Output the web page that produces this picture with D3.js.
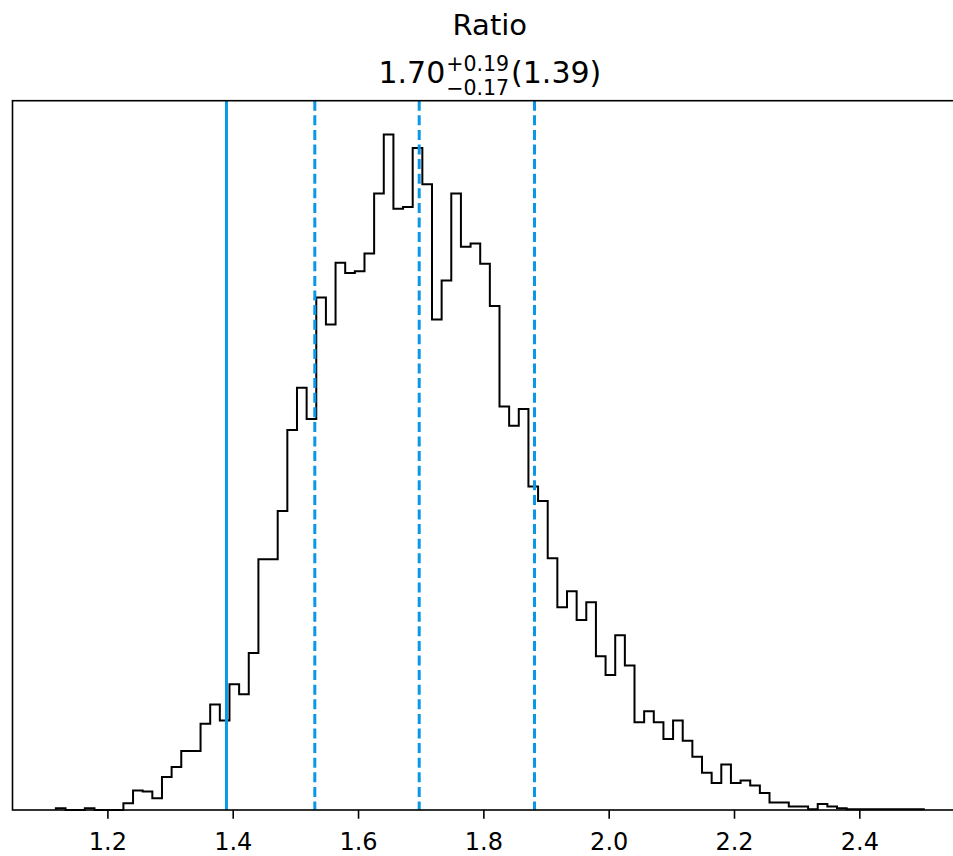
<!DOCTYPE html>
<html>
<head>
<meta charset="utf-8">
<script src="https://cdn.jsdelivr.net/npm/d3@7"></script>
<style>
  html, body { margin: 0; padding: 0; background: #fff; }
  svg { display: block; }
  text { font-family: "DejaVu Sans", sans-serif; fill: #000; }
</style>
</head>
<body>
<div id="chart"></div>
<script>
// ---------------- data ----------------
const titleText = "Ratio";
const medianLabel = "1.70";
const upperErrLabel = "+0.19";
const lowerErrLabel = "\u22120.17";
const truthLabel = "(1.39)";

const binStart = 1.1178;
const binWidth = 0.01539;
const counts = [
  2, 0, 0, 2, 0, 0, 0, 8, 23, 22,
  14, 39, 51, 70, 70, 102, 125, 106, 149, 137,
  186, 297, 297, 354, 450, 500, 463, 607, 575, 648,
  636, 638, 659, 730, 800, 712, 714, 784, 741, 581,
  627, 730, 667, 671, 647, 597, 478, 455, 475, 383,
  366, 298, 240, 259, 225, 246, 182, 160, 207, 171,
  104, 117, 104, 84, 106, 82, 63, 44, 32, 54,
  32, 35, 29, 20, 9, 9, 4, 4, 1, 7,
  4, 2, 1, 1, 1, 1, 1, 1, 1, 1
];
const tickValues = [1.2, 1.4, 1.6, 1.8, 2.0, 2.2, 2.4];
const tickLabels = ["1.2", "1.4", "1.6", "1.8", "2.0", "2.2", "2.4"];
const truthValue = 1.39;
const quantileValues = [1.531, 1.6976, 1.8816];

// ---------------- layout ----------------
const W = 953, H = 856;
const plotLeft = 12.5, plotRight = 967.2, plotTop = 100.7, plotBottom = 810;
const blue = "#0a97e8";

const svg = d3.select("#chart").append("svg")
  .attr("width", W).attr("height", H);

const edges = counts.map((_, i) => binStart + i * binWidth);
const dataMax = binStart + counts.length * binWidth;
const pad = (dataMax - binStart) * 0.05;

const x = d3.scaleLinear().domain([binStart - pad, dataMax + pad]).range([plotLeft, plotRight]);
const y = d3.scaleLinear().domain([0, d3.max(counts) * 1.05]).range([plotBottom, plotTop]);

// histogram step outline
const pts = [[binStart, 0]];
counts.forEach((c, i) => pts.push([edges[i], c]));
pts.push([dataMax, 0]);
const line = d3.line().x(d => x(d[0])).y(d => y(d[1])).curve(d3.curveStepAfter);

svg.append("path")
  .attr("d", line(pts))
  .attr("fill", "none")
  .attr("stroke", "#000")
  .attr("stroke-width", 2)
  .attr("stroke-linejoin", "miter");

// truth line
svg.append("line")
  .attr("x1", x(truthValue)).attr("x2", x(truthValue))
  .attr("y1", plotTop).attr("y2", plotBottom)
  .attr("stroke", blue).attr("stroke-width", 3);

// quantile lines
svg.selectAll("line.q").data(quantileValues).enter().append("line")
  .attr("class", "q")
  .attr("x1", d => x(d)).attr("x2", d => x(d))
  .attr("y1", plotTop).attr("y2", plotBottom)
  .attr("stroke", blue).attr("stroke-width", 3)
  .attr("stroke-dasharray", "10,4.6");

// spines (right side lies outside the picture)
svg.append("rect")
  .attr("x", plotLeft).attr("y", plotTop)
  .attr("width", plotRight - plotLeft).attr("height", plotBottom - plotTop)
  .attr("fill", "none").attr("stroke", "#000").attr("stroke-width", 1.6);

// x axis
const axis = d3.axisBottom(x)
  .tickValues(tickValues)
  .tickFormat((d, i) => tickLabels[i])
  .tickSize(8.75)
  .tickSizeOuter(0);
const gx = svg.append("g").attr("transform", `translate(0,${plotBottom})`).call(axis);
gx.select(".domain").remove();
gx.selectAll(".tick line").attr("stroke", "#000").attr("stroke-width", 1.6);
gx.selectAll(".tick text")
  .attr("y", 40).attr("dy", null)
  .style("font-size", "24px")
  .style("font-family", "'DejaVu Sans', sans-serif")
  .attr("fill", "#000");

// titles
const cx = (plotLeft + plotRight) / 2;
svg.append("text")
  .attr("x", cx).attr("y", 35)
  .attr("text-anchor", "middle")
  .style("font-size", "29px")
  .text(titleText);

const g2 = svg.append("g");
const baseY = 83;
const mainFs = 30, scriptFs = 20.5;
const t1 = g2.append("text").attr("x", 0).attr("y", baseY).style("font-size", mainFs + "px").text(medianLabel);
const w1 = t1.node().getComputedTextLength();
const sup = g2.append("text").attr("x", w1 + 1).attr("y", baseY - 12).style("font-size", scriptFs + "px").text(upperErrLabel);
const sub = g2.append("text").attr("x", w1 + 1).attr("y", baseY + 11.5).style("font-size", scriptFs + "px").text(lowerErrLabel);
const ws = Math.max(sup.node().getComputedTextLength(), sub.node().getComputedTextLength());
const t3 = g2.append("text").attr("x", w1 + 1 + ws + 2).attr("y", baseY).style("font-size", mainFs + "px").text(truthLabel);
const total = w1 + 3 + ws + t3.node().getComputedTextLength();
g2.attr("transform", `translate(${cx - total / 2},0)`);
</script>
</body>
</html>
